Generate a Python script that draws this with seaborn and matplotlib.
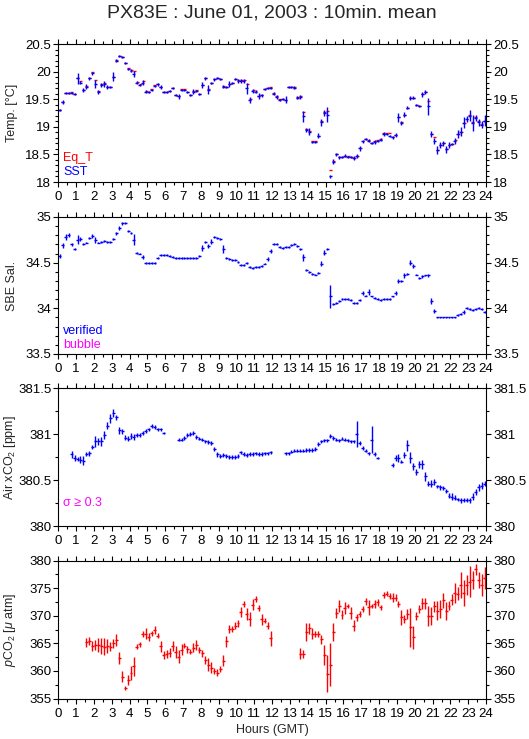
"""
PX83E underway data : 10 minute means for June 01, 2003
"""
import numpy as np
import matplotlib
matplotlib.use('Agg')  # Non-interactive backend
import matplotlib.pyplot as plt
from matplotlib.ticker import MultipleLocator
import seaborn as sns

nan = np.nan

# 10 minute slots over the day (start minute of each slot)
slot_start_min = np.arange(0, 1440, 10)
hour_ticks = list(range(0, 25))

# --- SST / equilibrator temperature [degC] ---
sst = [19.30, 19.45, 19.61, 19.61, 19.62, 19.59, 19.88, 19.80, 19.67, 19.73, 19.88, 19.97,
       19.77, 19.63, 19.76, 19.78, 19.72, 19.72, 19.91, 20.20, 20.28, 20.26, 20.16, 20.05,
       20.02, 19.96, 19.80, 19.76, 19.80, 19.64, 19.63, 19.67, 19.74, 19.77, 19.72, 19.63,
       19.63, 19.65, 19.70, 19.57, 19.55, 19.67, 19.67, 19.63, 19.58, 19.64, 19.65, 19.59,
       19.76, 19.88, 19.67, 19.79, 19.86, 19.88, 19.86, 19.73, 19.72, 19.78, 19.79, 19.86,
       19.83, 19.83, 19.83, 19.70, 19.49, 19.65, 19.64, 19.56, 19.57, 19.68, 19.71, 19.71,
       19.60, 19.54, 19.49, 19.51, 19.49, 19.72, 19.72, 19.71, 19.53, 19.54, 19.19, 18.94,
       18.91, 18.72, 18.73, 18.84, 19.08, 19.25, 19.22, 18.10, 18.37, 18.50, 18.45, 18.45,
       18.48, 18.46, 18.45, 18.43, 18.47, 18.61, 18.74, 18.78, 18.75, 18.70, 18.73, 18.75,
       18.77, 18.87, 18.87, 18.84, 18.81, 18.85, 19.17, 19.07, 19.22, 19.35, 19.52, 19.53,
       19.40, 19.38, 19.59, 19.63, 19.37, 18.87, 18.74, 18.58, 18.67, 18.70, 18.59, 18.67,
       18.69, 18.74, 18.87, 18.91, 19.07, 19.14, 19.20, 19.07, 19.16, 19.08, 19.04, 19.11]
sst_sd = [.02, .03, .02, .02, .02, .02, .10, .03, .03, .05, .03, .03,
          .07, .03, .03, .05, .04, .02, .08, .03, .02, .02, .02, .02,
          .03, .06, .03, .02, .04, .02, .02, .02, .02, .03, .03, .02,
          .02, .02, .02, .02, .05, .02, .02, .02, .02, .04, .02, .02,
          .06, .03, .08, .02, .03, .02, .02, .03, .02, .05, .02, .02,
          .03, .04, .04, .10, .05, .04, .02, .05, .03, .02, .02, .02,
          .03, .03, .02, .02, .06, .02, .02, .03, .02, .03, .10, .03,
          .06, .02, .02, .04, .07, .05, .14, .03, .04, .02, .03, .02,
          .03, .02, .02, .04, .04, .04, .03, .02, .03, .02, .04, .02,
          .03, .04, .02, .02, .03, .04, .08, .04, .04, .03, .04, .03,
          .02, .02, .05, .03, .15, .05, .05, .07, .06, .04, .06, .05,
          .02, .05, .07, .08, .10, .06, .10, .14, .05, .07, .06, .10]
eq_t = [19.30, 19.45, 19.62, 19.62, 19.63, 19.60, 19.88, 19.83, 19.67, 19.74, 19.89, 19.99,
        19.85, 19.65, 19.77, 19.79, 19.72, 19.72, 19.91, 20.21, 20.28, 20.27, 20.16, 20.06,
        20.03, 20.02, 19.82, 19.77, 19.83, 19.65, 19.63, 19.68, 19.75, 19.78, 19.72, 19.64,
        19.64, 19.65, 19.70, 19.58, 19.56, 19.68, 19.68, 19.64, 19.58, 19.65, 19.66, 19.60,
        19.76, 19.88, 19.68, 19.80, 19.87, 19.88, 19.86, 19.74, 19.73, 19.78, 19.80, 19.87,
        19.85, 19.84, 19.84, 19.78, 19.50, 19.66, 19.65, 19.56, 19.57, 19.69, 19.71, 19.72,
        19.61, 19.55, 19.50, 19.51, 19.49, 19.72, 19.72, 19.72, 19.54, 19.55, 19.27, 18.96,
        18.92, 18.74, 18.74, 18.84, 19.10, 19.27, 19.28, 18.21, 18.38, 18.50, 18.46, 18.46,
        18.48, 18.47, 18.46, 18.44, 18.47, 18.62, 18.75, 18.78, 18.76, 18.70, 18.74, 18.76,
        18.78, 18.88, 18.88, 18.88, 18.81, 18.86, 19.17, 19.08, 19.22, 19.35, 19.52, 19.53,
        19.40, 19.38, 19.60, 19.64, 19.46, 18.87, 18.81, 18.58, 18.67, 18.71, 18.60, 18.67,
        18.69, 18.76, 18.87, 18.91, 19.07, 19.15, 19.21, 19.08, 19.17, 19.10, 19.05, 19.11]

# --- SBE salinity ---
sal = [34.57, 34.69, 34.78, 34.80, 34.70, 34.65, 34.75, 34.76, 34.70, 34.72, 34.77, 34.79,
       34.75, 34.72, 34.73, 34.74, 34.73, 34.73, 34.76, 34.82, 34.88, 34.93, 34.93, 34.85,
       34.82, 34.75, 34.61, 34.60, 34.56, 34.50, 34.50, 34.50, 34.50, 34.55, 34.58, 34.58,
       34.58, 34.57, 34.56, 34.55, 34.55, 34.55, 34.55, 34.55, 34.55, 34.55, 34.55, 34.57,
       34.66, 34.73, 34.68, 34.73, 34.78, 34.77, 34.76, 34.65, 34.55, 34.54, 34.53, 34.53,
       34.51, 34.47, 34.47, 34.50, 34.45, 34.44, 34.45, 34.45, 34.46, 34.49, 34.54, 34.63,
       34.70, 34.70, 34.67, 34.66, 34.67, 34.67, 34.69, 34.70, 34.68, 34.65, 34.56, 34.42,
       34.40, 34.38, 34.37, 34.39, 34.49, 34.61, 34.65, 34.13, 34.05, 34.06, 34.08, 34.10,
       34.10, 34.10, 34.09, 34.06, 34.06, 34.09, 34.17, 34.14, 34.18, 34.13, 34.11, 34.10,
       34.09, 34.10, 34.10, 34.10, 34.13, 34.17, 34.30, 34.30, 34.36, 34.38, 34.50, 34.46,
       34.37, 34.33, 34.35, 34.36, 34.36, 34.08, 33.97, 33.90, 33.90, 33.90, 33.90, 33.90,
       33.90, 33.90, 33.93, 33.94, 33.96, 34.00, 33.99, 33.98, 33.99, 34.00, 33.99, 33.96]
sal_sd = [.02, .03, .03, .02, .02, .01, .05, .02, .01, .01, .01, .02,
          .03, .01, .01, .01, .01, .01, .01, .02, .02, .02, .01, .01,
          .01, .06, .01, .01, .02, .01, .01, .01, .01, .01, .01, .01,
          .01, .01, .01, .01, .01, .01, .01, .01, .01, .01, .01, .01,
          .03, .01, .02, .03, .01, .01, .01, .04, .01, .01, .01, .01,
          .01, .01, .01, .01, .01, .01, .01, .01, .01, .01, .02, .02,
          .01, .01, .01, .01, .01, .01, .01, .01, .01, .01, .04, .01,
          .01, .01, .01, .01, .03, .03, .01, .13, .01, .01, .01, .01,
          .01, .01, .01, .01, .01, .01, .02, .01, .03, .01, .01, .01,
          .01, .01, .01, .01, .01, .02, .02, .01, .03, .01, .03, .02,
          .01, .01, .02, .01, .02, .03, .02, .01, .01, .01, .01, .01,
          .01, .01, .01, .01, .02, .01, .01, .01, .01, .01, .01, .01]

# --- Air xCO2 [ppm] ---
air_xco2 = [nan, nan, nan, nan, 380.78, 380.74, 380.73, 380.72, 380.71, 380.78, 380.79, 380.86,
            380.92, 380.92, 380.92, 380.99, 381.09, 381.17, 381.23, 381.18, 381.04, 381.03, 380.96, 380.95,
            380.98, 380.97, 380.99, 380.99, 381.01, 381.03, 381.05, 381.09, 381.08, 381.05, 381.05, 381.01,
            nan, nan, nan, nan, 380.94, 380.94, 380.96, 380.99, 381.00, 381.01, 380.97, 380.95,
            380.94, 380.92, 380.91, 380.90, 380.84, 380.78, 380.76, 380.77, 380.76, 380.75, 380.75, 380.75,
            380.76, 380.80, 380.78, 380.77, 380.78, 380.78, 380.79, 380.78, 380.78, 380.79, 380.79, 380.80,
            nan, nan, nan, nan, 380.79, 380.79, 380.81, 380.82, 380.82, 380.82, 380.82, 380.83,
            380.83, 380.83, 380.84, 380.89, 380.92, 380.93, 380.93, 380.98, 380.96, 380.94, 380.93, 380.95,
            380.94, 380.93, 380.92, 380.92, 381.00, 380.90, 380.85, 380.82, 380.79, 380.94, 380.78, 380.74,
            nan, nan, nan, nan, 380.66, 380.74, 380.74, 380.70, 380.77, 380.88, 380.74, 380.65,
            380.59, 380.67, 380.67, 380.54, 380.46, 380.46, 380.48, 380.43, 380.42, 380.41, 380.38, 380.33,
            380.32, 380.31, 380.29, 380.28, 380.28, 380.28, 380.28, 380.32, 380.37, 380.42, 380.44, 380.46]
air_sd = [0, 0, 0, 0, .04, .03, .02, .04, .05, .02, .03, .02,
          .06, .04, .05, .04, .04, .05, .04, .03, .04, .03, .03, .03,
          .03, .03, .02, .02, .02, .02, .02, .02, .02, .02, .02, .01,
          0, 0, 0, 0, .02, .02, .02, .02, .02, .02, .02, .02,
          .02, .02, .02, .02, .02, .03, .02, .02, .02, .02, .02, .02,
          .02, .02, .02, .02, .02, .02, .02, .02, .02, .02, .02, .02,
          0, 0, 0, 0, .02, .02, .02, .02, .02, .02, .02, .02,
          .02, .02, .02, .02, .02, .02, .02, .02, .02, .02, .02, .02,
          .02, .02, .02, .02, .14, .02, .02, .02, .02, .15, .02, .01,
          0, 0, 0, 0, .02, .03, .04, .02, .03, .06, .06, .04,
          .03, .04, .05, .05, .03, .04, .03, .02, .03, .02, .02, .03,
          .04, .03, .02, .03, .02, .02, .03, .04, .03, .04, .04, .03]

# --- seawater pCO2 [uatm] ---
pco2 = [nan, nan, nan, nan, nan, nan, nan, nan, nan, 365.2, 365.4, 364.5,
        364.7, 364.7, 364.5, 364.4, 364.5, 364.4, 365.0, 365.6, 362.3, 358.9, 356.9, 358.4,
        359.6, 360.8, 364.4, 364.8, 366.7, 366.7, 366.1, 366.8, 367.4, 366.4, 364.5, 362.9,
        363.1, 363.3, 364.5, 363.5, 362.6, 363.8, 364.6, 363.9, 363.5, 364.2, 364.7, 363.8,
        363.2, 362.0, 361.1, 360.6, 360.0, 359.7, 360.3, 361.8, 365.4, 367.6, 367.6, 368.2,
        368.6, 370.6, 372.1, 370.3, 369.4, 372.0, 373.0, 371.4, 369.4, 369.1, 368.2, 365.9,
        nan, nan, nan, nan, nan, nan, nan, nan, nan, 363.1, 363.1, 367.0,
        367.7, 366.7, 366.7, 366.7, 365.7, 362.9, 359.5, 361.1, 367.0, 370.5, 371.7, 370.2,
        371.4, 371.8, 370.5, 368.2, 369.7, 370.3, 371.2, 372.6, 371.5, 371.8, 372.1, 372.4,
        371.5, 373.8, 374.0, 373.6, 373.3, 373.3, 372.1, 369.7, 369.4, 370.3, 367.9, 366.1,
        370.0, 371.2, 372.3, 372.3, 370.0, 370.0, 371.7, 370.9, 371.2, 372.8, 370.9, 371.8,
        372.9, 374.1, 374.0, 375.6, 374.1, 375.6, 376.2, 376.5, 378.4, 376.5, 375.6, 376.8]
pco2_sd = [0, 0, 0, 0, 0, 0, 0, 0, 0, .8, .7, .9,
           .9, 1.2, 1.5, 1.5, 1.2, .8, .8, 1.0, 1.1, 1.0, .4, .9,
           1.2, 1.8, .5, .4, .6, 1.0, .7, .5, .7, .5, 1.0, .7,
           .7, .8, .9, 1.1, 1.1, 1.0, .5, .7, .5, .8, .9, .5,
           .6, .7, 1.2, 1.0, .6, .6, .5, 1.0, 1.0, .8, .6, .6,
           .7, .9, .5, 1.1, 1.3, 1.0, .6, .6, 1.0, .4, .6, 1.4,
           0, 0, 0, 0, 0, 0, 0, 0, 0, 1.0, .7, 1.6,
           1.0, 1.0, .5, .5, .8, 1.8, 3.4, 3.9, 1.6, .9, 1.1, .8,
           1.0, .4, 1.1, 1.0, .6, .6, .6, .7, 1.4, .4, .7, .7,
           .5, .5, .4, .5, .8, .6, .6, 1.3, .8, .9, 3.5, 2.1,
           .7, .7, 1.0, 1.0, 1.8, 1.6, 1.0, 1.7, 1.6, 1.4, 1.6, .8,
           1.0, 1.8, 1.2, 2.3, 2.3, 1.8, 2.8, 1.6, 1.0, 1.4, 2.0, 2.0]

BLUE = '#0000ff'
RED = '#ff0000'
MAGENTA = '#ff00ff'


def style_axis(ax, ylim, major, minor, ylabel):
    """Frame, ticks and labels shared by all four panels"""
    ax.set_xlim(0, 24)
    ax.set_ylim(*ylim)
    ax.set_xticks(hour_ticks)
    ax.xaxis.set_minor_locator(MultipleLocator(0.5))
    ax.yaxis.set_major_locator(MultipleLocator(major))
    ax.yaxis.set_minor_locator(MultipleLocator(minor))
    ax.yaxis.set_major_formatter(matplotlib.ticker.FormatStrFormatter('%g'))
    ax.tick_params(which='both', direction='out', top=True, right=True,
                   labelright=True, labelsize=9.5, width=0.8, color='black',
                   labelcolor='black')
    ax.tick_params(which='major', length=3.5, pad=1.5)
    ax.tick_params(which='minor', length=2.5)
    ax.tick_params(axis='x', which='major', pad=3)
    for sp in ax.spines.values():
        sp.set_visible(True)
        sp.set_color('black')
        sp.set_linewidth(0.8)
    ax.set_ylabel(ylabel, fontsize=9)
    ax.yaxis.set_label_coords(-0.094, 0.5)
    ax.grid(False)


def draw_bars(ax, hours, values, sd, color):
    """10-minute mean: horizontal bar = averaging window, vertical bar = std"""
    ax.errorbar(hours, values, xerr=5 / 60, yerr=sd, fmt='none',
                ecolor=color, elinewidth=1.0, capsize=0)


def main():
    sns.set_theme(style='ticks')
    plt.rcParams['font.family'] = ['Liberation Sans', 'DejaVu Sans']
    plt.rcParams['mathtext.fontset'] = 'custom'
    plt.rcParams['mathtext.rm'] = 'Liberation Sans'
    plt.rcParams['mathtext.it'] = 'Liberation Sans:italic'

    hours = (slot_start_min + 5) / 60.0

    fig = plt.figure(figsize=(5.29, 7.39), dpi=100)
    left, width, height = 0.110, 0.809, 0.1867
    ax_t = fig.add_axes([left, 0.7537, width, height])
    ax_s = fig.add_axes([left, 0.5210, width, 0.1854])
    ax_a = fig.add_axes([left, 0.2882, width, height])
    ax_p = fig.add_axes([left, 0.0548, width, height])

    # Temperature panel: Eq_T under SST
    ax_t.errorbar(hours + 0.01, eq_t, xerr=5 / 60, fmt='none', ecolor=RED,
                  elinewidth=1.0, capsize=0)
    draw_bars(ax_t, hours, sst, sst_sd, BLUE)
    style_axis(ax_t, (18, 20.5), 0.5, 0.1, 'Temp. [°C]')
    ax_t.text(0.012, 0.175, 'Eq_T', color=RED, fontsize=9, transform=ax_t.transAxes, va='center')
    ax_t.text(0.012, 0.072, 'SST', color=BLUE, fontsize=9, transform=ax_t.transAxes, va='center')

    # Salinity
    draw_bars(ax_s, hours, sal, sal_sd, BLUE)
    style_axis(ax_s, (33.5, 35), 0.5, 0.1, 'SBE Sal.')
    ax_s.text(0.012, 0.165, 'verified', color=BLUE, fontsize=9, transform=ax_s.transAxes, va='center')
    ax_s.text(0.012, 0.068, 'bubble', color=MAGENTA, fontsize=9, transform=ax_s.transAxes, va='center')

    # Air xCO2
    draw_bars(ax_a, hours, air_xco2, air_sd, BLUE)
    style_axis(ax_a, (380, 381.5), 0.5, 0.25, r'Air xCO$_2$ [ppm]')
    ax_a.text(0.012, 0.167, 'σ ≥ 0.3', color=MAGENTA, fontsize=9, transform=ax_a.transAxes, va='center')

    # pCO2
    draw_bars(ax_p, hours, pco2, pco2_sd, RED)
    style_axis(ax_p, (355, 380), 5, 2.5, r'$\it{p}$CO$_2$ [$\mu$ atm]')

    fig.text(0.514, 0.982, 'PX83E : June 01, 2003 : 10min. mean', ha='center', va='center', fontsize=14)
    fig.text(0.514, 0.012, 'Hours (GMT)', ha='center', va='center', fontsize=9)

    fig.savefig('out.png', dpi=100)
    print('[PLOT] saved out.png')


if __name__ == '__main__':
    main()
